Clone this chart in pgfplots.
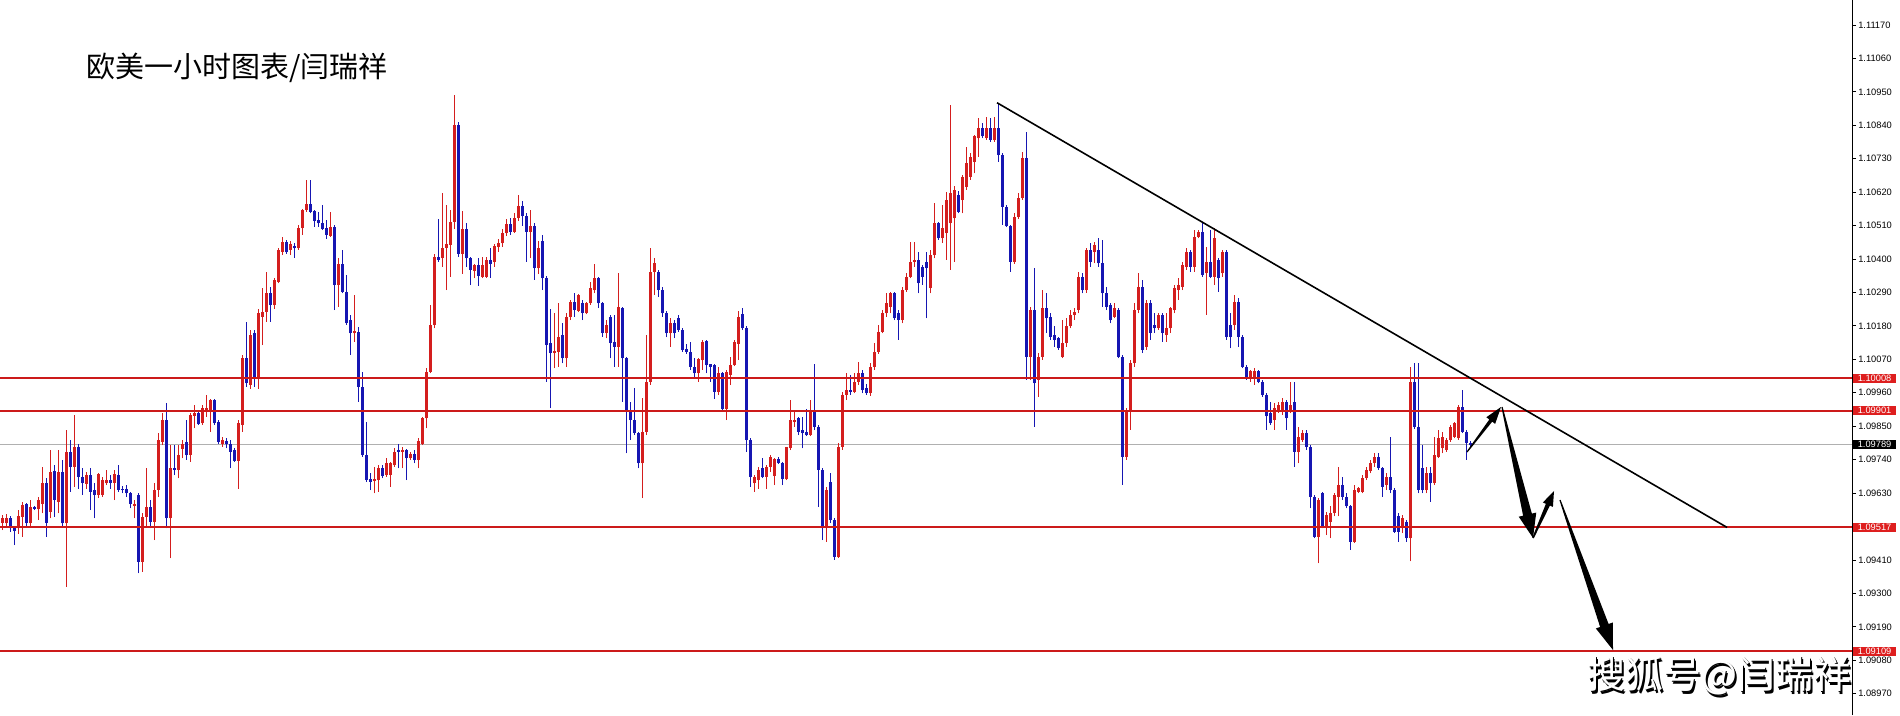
\documentclass[border=0pt]{standalone}
\usepackage{fontspec}
\usepackage{pgfplots}
\usepackage{pgfplotstable}
\pgfplotsset{compat=1.18}
\usetikzlibrary{calc}
\newfontfamily\cjk{Noto Sans CJK SC}
\newfontfamily\ticfamily{Liberation Sans}
\newcommand\ticfont{\ticfamily\fontsize{9.3}{10}\selectfont}
\definecolor{candred}{RGB}{212,30,30}
\definecolor{candblue}{RGB}{22,22,178}
\definecolor{levelred}{RGB}{204,26,26}
\definecolor{tagred}{RGB}{222,30,30}
\definecolor{pricegray}{RGB}{176,176,176}
\newcommand\taparrow[8]{%
  \coordinate (T) at (#1,#2); \coordinate (P) at (#3,#4);
  \fill[black] ($(T)!#5!90:(P)$) -- ($(P)!#8!(T)!#6!-90:(T)$) -- ($(P)!#8!(T)!#7!-90:(T)$) -- (P) -- ($(P)!#8!(T)!#7!90:(T)$) -- ($(P)!#8!(T)!#6!90:(T)$) -- ($(T)!#5!-90:(P)$) -- cycle;}
\pgfplotstableread{
O H L C
1.09532 1.09558 1.09508 1.09547
1.09530 1.09560 1.09520 1.09547
1.09547 1.09555 1.09503 1.09514
1.09514 1.09518 1.09459 1.09505
1.09514 1.09574 1.09497 1.09554
1.09552 1.09602 1.09486 1.09591
1.09593 1.09596 1.09519 1.09530
1.09530 1.09607 1.09519 1.09583
1.09583 1.09587 1.09574 1.09579
1.09576 1.09618 1.09541 1.09607
1.09594 1.09717 1.09563 1.09662
1.09662 1.09678 1.09486 1.09532
1.09569 1.09772 1.09547 1.09700
1.09704 1.09722 1.09552 1.09607
1.09602 1.09772 1.09563 1.09700
1.09700 1.09739 1.09519 1.09530
1.09530 1.09839 1.09322 1.09766
1.09766 1.09804 1.09634 1.09717
1.09717 1.09887 1.09651 1.09782
1.09782 1.09793 1.09645 1.09684
1.09682 1.09711 1.09624 1.09662
1.09660 1.09700 1.09645 1.09689
1.09689 1.09711 1.09574 1.09634
1.09640 1.09662 1.09547 1.09624
1.09624 1.09697 1.09613 1.09693
1.09624 1.09684 1.09618 1.09673
1.09662 1.09706 1.09656 1.09673
1.09673 1.09689 1.09645 1.09664
1.09664 1.09706 1.09607 1.09693
1.09689 1.09722 1.09634 1.09640
1.09645 1.09653 1.09629 1.09640
1.09645 1.09656 1.09618 1.09629
1.09629 1.09634 1.09580 1.09594
1.09587 1.09607 1.09547 1.09594
1.09624 1.09629 1.09366 1.09404
1.09404 1.09563 1.09371 1.09552
1.09552 1.09711 1.09519 1.09585
1.09585 1.09607 1.09514 1.09536
1.09536 1.09662 1.09475 1.09640
1.09640 1.09826 1.09618 1.09804
1.09799 1.09892 1.09788 1.09870
1.09870 1.09925 1.09514 1.09547
1.09547 1.09788 1.09415 1.09711
1.09711 1.09788 1.09689 1.09706
1.09706 1.09788 1.09678 1.09755
1.09775 1.09804 1.09744 1.09793
1.09799 1.09870 1.09739 1.09755
1.09755 1.09892 1.09733 1.09887
1.09884 1.09920 1.09843 1.09892
1.09895 1.09903 1.09854 1.09856
1.09859 1.09920 1.09854 1.09911
1.09900 1.09952 1.09881 1.09909
1.09898 1.09941 1.09832 1.09936
1.09936 1.09941 1.09854 1.09859
1.09865 1.09870 1.09793 1.09799
1.09793 1.09815 1.09782 1.09804
1.09801 1.09810 1.09777 1.09790
1.09793 1.09804 1.09711 1.09766
1.09772 1.09777 1.09733 1.09736
1.09736 1.09870 1.09645 1.09859
1.09854 1.10084 1.09832 1.10075
1.10073 1.10194 1.09980 1.09991
1.09985 1.10166 1.09974 1.10150
1.10155 1.10166 1.09980 1.10007
1.10007 1.10237 1.09974 1.10221
1.10210 1.10303 1.10117 1.10226
1.10226 1.10358 1.10194 1.10287
1.10287 1.10309 1.10194 1.10248
1.10248 1.10336 1.10237 1.10331
1.10325 1.10435 1.10320 1.10430
1.10424 1.10473 1.10413 1.10457
1.10457 1.10462 1.10418 1.10422
1.10430 1.10460 1.10413 1.10450
1.10444 1.10451 1.10404 1.10435
1.10435 1.10512 1.10430 1.10501
1.10501 1.10566 1.10479 1.10561
1.10561 1.10660 1.10555 1.10580
1.10580 1.10660 1.10550 1.10555
1.10558 1.10561 1.10506 1.10525
1.10528 1.10555 1.10506 1.10517
1.10520 1.10577 1.10495 1.10498
1.10503 1.10528 1.10466 1.10479
1.10476 1.10555 1.10473 1.10506
1.10506 1.10512 1.10232 1.10314
1.10314 1.10402 1.10243 1.10385
1.10385 1.10429 1.10287 1.10292
1.10292 1.10347 1.10183 1.10188
1.10199 1.10215 1.10084 1.10155
1.10155 1.10281 1.10128 1.10163
1.10161 1.10177 1.09930 1.09980
1.09980 1.10029 1.09749 1.09755
1.09755 1.09865 1.09667 1.09673
1.09675 1.09695 1.09640 1.09667
1.09670 1.09717 1.09629 1.09675
1.09673 1.09722 1.09634 1.09711
1.09713 1.09722 1.09678 1.09687
1.09689 1.09744 1.09684 1.09728
1.09689 1.09733 1.09651 1.09728
1.09722 1.09777 1.09717 1.09766
1.09772 1.09790 1.09711 1.09766
1.09766 1.09782 1.09711 1.09772
1.09772 1.09775 1.09673 1.09744
1.09744 1.09766 1.09739 1.09760
1.09760 1.09772 1.09728 1.09739
1.09739 1.09810 1.09711 1.09801
1.09793 1.09881 1.09788 1.09876
1.09876 1.10040 1.09843 1.10029
1.10029 1.10248 1.10024 1.10183
1.10183 1.10418 1.10172 1.10407
1.10407 1.10533 1.10391 1.10396
1.10402 1.10616 1.10374 1.10437
1.10437 1.10577 1.10298 1.10451
1.10446 1.10561 1.10342 1.10522
1.10522 1.10941 1.10500 1.10840
1.10840 1.10851 1.10407 1.10418
1.10418 1.10558 1.10352 1.10500
1.10500 1.10517 1.10374 1.10402
1.10402 1.10407 1.10314 1.10363
1.10360 1.10385 1.10336 1.10380
1.10380 1.10402 1.10312 1.10345
1.10342 1.10407 1.10336 1.10380
1.10342 1.10407 1.10338 1.10396
1.10396 1.10435 1.10338 1.10385
1.10391 1.10451 1.10374 1.10443
1.10441 1.10466 1.10424 1.10451
1.10451 1.10500 1.10440 1.10485
1.10485 1.10530 1.10475 1.10515
1.10515 1.10535 1.10480 1.10490
1.10490 1.10550 1.10485 1.10535
1.10535 1.10610 1.10525 1.10575
1.10575 1.10590 1.10510 1.10540
1.10540 1.10550 1.10391 1.10490
1.10490 1.10560 1.10402 1.10510
1.10510 1.10520 1.10331 1.10369
1.10369 1.10460 1.10350 1.10435
1.10460 1.10480 1.10298 1.10336
1.10336 1.10345 1.09997 1.10117
1.10123 1.10236 1.09909 1.10090
1.10090 1.10221 1.10040 1.10097
1.10095 1.10254 1.10046 1.10145
1.10150 1.10188 1.10057 1.10073
1.10073 1.10221 1.10046 1.10210
1.10210 1.10265 1.10199 1.10260
1.10260 1.10287 1.10210 1.10232
1.10229 1.10284 1.10225 1.10282
1.10254 1.10265 1.10199 1.10221
1.10221 1.10260 1.10218 1.10254
1.10254 1.10325 1.10249 1.10304
1.10298 1.10382 1.10287 1.10336
1.10336 1.10342 1.10238 1.10254
1.10254 1.10260 1.10145 1.10156
1.10156 1.10199 1.10139 1.10183
1.10210 1.10216 1.10073 1.10123
1.10128 1.10216 1.10046 1.10112
1.10112 1.10353 1.10046 1.10243
1.10240 1.10243 1.09931 1.10073
1.10073 1.10079 1.09761 1.09903
1.09903 1.09931 1.09805 1.09870
1.09870 1.09975 1.09821 1.09827
1.09827 1.09832 1.09711 1.09728
1.09728 1.09942 1.09613 1.09832
1.09832 1.10150 1.09821 1.09997
1.09997 1.10437 1.09986 1.10358
1.10358 1.10402 1.10282 1.10386
1.10358 1.10364 1.10276 1.10298
1.10298 1.10309 1.10210 1.10221
1.10221 1.10230 1.10142 1.10155
1.10155 1.10205 1.10111 1.10188
1.10188 1.10200 1.10139 1.10155
1.10205 1.10215 1.10160 1.10166
1.10166 1.10172 1.10095 1.10100
1.10103 1.10122 1.10089 1.10095
1.10095 1.10128 1.10035 1.10045
1.10045 1.10073 1.10007 1.10024
1.10024 1.10073 1.09996 1.10070
1.10067 1.10133 1.10035 1.10128
1.10131 1.10133 1.10024 1.10051
1.10053 1.10056 1.09996 1.10045
1.10051 1.10056 1.09941 1.09963
1.09963 1.10045 1.09952 1.10024
1.10024 1.10029 1.09903 1.09908
1.09908 1.10035 1.09870 1.10029
1.10018 1.10078 1.09985 1.10051
1.10051 1.10133 1.10048 1.10128
1.10122 1.10230 1.10067 1.10210
1.10220 1.10240 1.10166 1.10172
1.10172 1.10180 1.09766 1.09804
1.09806 1.09810 1.09651 1.09684
1.09662 1.09689 1.09634 1.09684
1.09673 1.09717 1.09645 1.09706
1.09711 1.09744 1.09678 1.09684
1.09684 1.09722 1.09645 1.09717
1.09717 1.09755 1.09700 1.09749
1.09686 1.09744 1.09656 1.09741
1.09741 1.09749 1.09725 1.09728
1.09728 1.09733 1.09656 1.09675
1.09675 1.09782 1.09673 1.09780
1.09777 1.09936 1.09771 1.09870
1.09865 1.09903 1.09848 1.09872
1.09876 1.09881 1.09821 1.09832
1.09837 1.09881 1.09777 1.09826
1.09832 1.09908 1.09817 1.09821
1.09821 1.09936 1.09817 1.09903
1.09903 1.10056 1.09837 1.09848
1.09848 1.09854 1.09585 1.09706
1.09706 1.09711 1.09475 1.09514
1.09514 1.09650 1.09470 1.09640
1.09668 1.09695 1.09531 1.09542
1.09542 1.09547 1.09410 1.09421
1.09421 1.09794 1.09416 1.09783
1.09783 1.09964 1.09772 1.09953
1.09953 1.10024 1.09936 1.09969
1.09969 1.10019 1.09953 1.09964
1.09964 1.10024 1.09958 1.09997
1.09997 1.10062 1.09986 1.10024
1.10024 1.10035 1.09958 1.09969
1.09975 1.09990 1.09953 1.09958
1.09958 1.10057 1.09950 1.10046
1.10046 1.10123 1.10035 1.10095
1.10095 1.10183 1.10088 1.10161
1.10161 1.10232 1.10155 1.10221
1.10221 1.10287 1.10210 1.10254
1.10243 1.10292 1.10221 1.10287
1.10287 1.10292 1.10199 1.10205
1.10221 1.10232 1.10134 1.10199
1.10199 1.10309 1.10188 1.10298
1.10298 1.10353 1.10292 1.10342
1.10342 1.10457 1.10336 1.10391
1.10391 1.10457 1.10375 1.10397
1.10397 1.10424 1.10287 1.10320
1.10375 1.10379 1.10315 1.10342
1.10391 1.10424 1.10205 1.10369
1.10304 1.10429 1.10287 1.10413
1.10413 1.10583 1.10402 1.10517
1.10517 1.10523 1.10463 1.10468
1.10468 1.10578 1.10452 1.10501
1.10485 1.10622 1.10397 1.10594
1.10517 1.10907 1.10364 1.10616
1.10534 1.10640 1.10391 1.10627
1.10611 1.10625 1.10550 1.10556
1.10594 1.10676 1.10550 1.10671
1.10638 1.10770 1.10627 1.10715
1.10671 1.10748 1.10660 1.10737
1.10720 1.10808 1.10682 1.10803
1.10797 1.10863 1.10737 1.10830
1.10830 1.10846 1.10797 1.10803
1.10797 1.10868 1.10792 1.10830
1.10830 1.10863 1.10786 1.10792
1.10792 1.10868 1.10786 1.10830
1.10830 1.10912 1.10720 1.10742
1.10742 1.10748 1.10512 1.10572
1.10572 1.10578 1.10505 1.10507
1.10507 1.10512 1.10358 1.10391
1.10391 1.10550 1.10385 1.10539
1.10539 1.10616 1.10533 1.10600
1.10600 1.10753 1.10595 1.10731
1.10731 1.10819 1.10002 1.10079
1.10079 1.10243 1.10002 1.10232
1.10232 1.10369 1.09849 1.09991
1.10002 1.10090 1.09947 1.10079
1.10079 1.10298 1.10068 1.10238
1.10238 1.10287 1.10156 1.10205
1.10210 1.10221 1.10134 1.10145
1.10150 1.10178 1.10112 1.10134
1.10139 1.10145 1.10101 1.10106
1.10079 1.10199 1.10073 1.10123
1.10123 1.10205 1.10112 1.10178
1.10178 1.10232 1.10172 1.10216
1.10216 1.10238 1.10199 1.10227
1.10232 1.10358 1.10221 1.10342
1.10342 1.10353 1.10287 1.10298
1.10298 1.10435 1.10289 1.10430
1.10430 1.10452 1.10375 1.10391
1.10424 1.10457 1.10386 1.10446
1.10430 1.10468 1.10375 1.10386
1.10386 1.10463 1.10243 1.10287
1.10287 1.10309 1.10232 1.10243
1.10249 1.10254 1.10188 1.10199
1.10210 1.10254 1.10205 1.10238
1.10232 1.10238 1.10073 1.10079
1.10079 1.10084 1.09657 1.09750
1.09750 1.09910 1.09739 1.09904
1.09904 1.10068 1.09838 1.10057
1.10057 1.10254 1.10046 1.10232
1.10232 1.10353 1.10221 1.10309
1.10309 1.10331 1.10090 1.10101
1.10112 1.10265 1.10101 1.10254
1.10254 1.10265 1.10134 1.10156
1.10183 1.10221 1.10156 1.10172
1.10172 1.10221 1.10167 1.10216
1.10216 1.10221 1.10128 1.10156
1.10150 1.10221 1.10128 1.10172
1.10172 1.10243 1.10156 1.10238
1.10232 1.10315 1.10221 1.10304
1.10298 1.10336 1.10265 1.10315
1.10309 1.10391 1.10298 1.10380
1.10375 1.10435 1.10364 1.10424
1.10424 1.10430 1.10358 1.10375
1.10375 1.10496 1.10358 1.10474
1.10474 1.10496 1.10468 1.10490
1.10490 1.10523 1.10342 1.10347
1.10353 1.10441 1.10216 1.10391
1.10391 1.10496 1.10336 1.10342
1.10342 1.10501 1.10315 1.10468
1.10397 1.10402 1.10293 1.10336
1.10353 1.10430 1.10342 1.10424
1.10424 1.10430 1.10134 1.10145
1.10183 1.10221 1.10106 1.10145
1.10183 1.10282 1.10167 1.10260
1.10260 1.10271 1.10112 1.10145
1.10145 1.10150 1.10040 1.10046
1.10046 1.10051 1.10002 1.10013
1.10008 1.10035 1.09997 1.10030
1.10013 1.10040 1.09986 1.10030
1.10030 1.10035 1.09991 1.09997
1.09997 1.10002 1.09947 1.09953
1.09953 1.09958 1.09838 1.09882
1.09893 1.09931 1.09854 1.09860
1.09871 1.09925 1.09838 1.09909
1.09898 1.09931 1.09893 1.09920
1.09898 1.09942 1.09887 1.09931
1.09931 1.09936 1.09838 1.09876
1.09898 1.09997 1.09893 1.09920
1.09931 1.09997 1.09717 1.09766
1.09766 1.09849 1.09728 1.09816
1.09805 1.09838 1.09799 1.09827
1.09827 1.09838 1.09772 1.09783
1.09783 1.09788 1.09580 1.09618
1.09618 1.09624 1.09481 1.09487
1.09487 1.09613 1.09399 1.09608
1.09629 1.09635 1.09514 1.09520
1.09520 1.09569 1.09492 1.09558
1.09536 1.09586 1.09481 1.09564
1.09564 1.09629 1.09553 1.09624
1.09618 1.09717 1.09553 1.09657
1.09657 1.09684 1.09608 1.09618
1.09618 1.09629 1.09580 1.09586
1.09586 1.09591 1.09443 1.09470
1.09470 1.09657 1.09465 1.09640
1.09635 1.09651 1.09629 1.09646
1.09635 1.09689 1.09629 1.09679
1.09679 1.09717 1.09673 1.09706
1.09701 1.09739 1.09695 1.09728
1.09728 1.09761 1.09717 1.09750
1.09750 1.09761 1.09706 1.09712
1.09712 1.09717 1.09618 1.09651
1.09657 1.09695 1.09640 1.09684
1.09684 1.09816 1.09629 1.09640
1.09640 1.09646 1.09498 1.09503
1.09553 1.09564 1.09470 1.09503
1.09514 1.09558 1.09498 1.09547
1.09536 1.09542 1.09470 1.09481
1.09481 1.10046 1.09405 1.09997
1.09997 1.10057 1.09840 1.09849
1.09849 1.10057 1.09629 1.09640
1.09712 1.09788 1.09629 1.09640
1.09640 1.09717 1.09629 1.09695
1.09695 1.09717 1.09602 1.09662
1.09662 1.09816 1.09656 1.09755
1.09750 1.09838 1.09745 1.09810
1.09777 1.09832 1.09761 1.09816
1.09772 1.09810 1.09766 1.09805
1.09805 1.09854 1.09799 1.09849
1.09816 1.09865 1.09810 1.09860
1.09810 1.09920 1.09805 1.09914
1.09914 1.09969 1.09827 1.09832
1.09832 1.09838 1.09739 1.09794
1.09794 1.09800 1.09780 1.09789
}\candles
\begin{document}
\begin{tikzpicture}[x=1pt,y=1pt]
\useasboundingbox (0,0) rectangle (1900,715);
\begin{axis}[
  at={(0pt,0pt)}, anchor=south west,
  scale only axis, width=1852pt, height=715pt,
  xmin=-0.5, xmax=462.5, ymin=1.08900, ymax=1.11252,
  axis x line=none,
  axis y line=right,
  axis line style={-, black, line width=1pt},
  ytick={1.1117,1.1106,1.1095,1.1084,1.1073,1.1062,1.1051,1.1040,1.1029,1.1018,1.1007,1.0996,1.0985,1.0974,1.0963,1.0941,1.0930,1.0919,1.0908,1.0897},
  tick align=outside,
  major tick length=4pt,
  tick style={black, line width=0.8pt},
  scaled y ticks=false,
  yticklabel style={font=\ticfont, text=black, anchor=west, inner sep=0pt, xshift=2pt,
    /pgf/number format/.cd, fixed, fixed zerofill, precision=5, assume math mode=true},
  clip=false,
  candle/.style={mark=none, -, forget plot},
]
% current price line
\addplot[pricegray, line width=0.8pt, forget plot] coordinates {(-0.5,1.09789) (462.5,1.09789)};
% wicks
\addplot[candle, candred, line width=1pt,
  restrict expr to domain={\thisrow{C}-\thisrow{O}}{0:1},
  quiver={u=0, v=\thisrow{H}-\thisrow{L}}]
  table[x expr=\coordindex, y=L] {\candles};
\addplot[candle, candblue, line width=1pt,
  restrict expr to domain={\thisrow{C}-\thisrow{O}}{-1:0},
  quiver={u=0, v=\thisrow{H}-\thisrow{L}}]
  table[x expr=\coordindex, y=L] {\candles};
% bodies
\addplot[candle, candred, line width=3pt,
  restrict expr to domain={\thisrow{C}-\thisrow{O}}{0:1},
  quiver={u=0, v=\thisrow{C}-\thisrow{O}}]
  table[x expr=\coordindex, y=O] {\candles};
\addplot[candle, candblue, line width=3pt,
  restrict expr to domain={\thisrow{C}-\thisrow{O}}{-1:0},
  quiver={u=0, v=\thisrow{O}-\thisrow{C}}]
  table[x expr=\coordindex, y=C] {\candles};
% levels
\addplot[levelred, line width=2pt, forget plot] coordinates {(-0.5,1.10008) (462.5,1.10008)};
\addplot[levelred, line width=2pt, forget plot] coordinates {(-0.5,1.09901) (462.5,1.09901)};
\addplot[levelred, line width=2pt, forget plot] coordinates {(-0.5,1.09517) (462.5,1.09517)};
\addplot[levelred, line width=2pt, forget plot] coordinates {(-0.5,1.09109) (462.5,1.09109)};
% trend line
\addplot[black, line width=1.6pt, forget plot] coordinates {(248.75,1.10914) (431.25,1.09517)};
% price tags
\tikzset{tag/.style={fill=#1, text=white, font=\ticfont, anchor=west, inner xsep=4.5pt, inner ysep=1.3pt, xshift=1pt}}
\node[tag=tagred] at (axis cs:462.5,1.10008) {1.10008};
\node[tag=tagred] at (axis cs:462.5,1.09901) {1.09901};
\node[tag=black] at (axis cs:462.5,1.09789) {1.09789};
\node[tag=tagred] at (axis cs:462.5,1.09517) {1.09517};
\node[tag=tagred] at (axis cs:462.5,1.09109) {1.09109};
\end{axis}
\begin{scope}[shift={(0,715)}, x=1pt, y=-1pt]
  \node[anchor=base west, inner sep=0pt, font=\cjk\fontsize{29}{29}\selectfont] at (86,78) {欧美一小时图表/闫瑞祥};
  \taparrow{1467}{452}{1501}{407}{0.6pt}{1.8pt}{5.5pt}{17pt}
  \taparrow{1502}{407}{1533}{538}{0.6pt}{4.5pt}{9pt}{24pt}
  \taparrow{1533}{538}{1554}{491}{0.8pt}{2.2pt}{5.5pt}{15pt}
  \taparrow{1560}{500}{1613}{650}{0.6pt}{4.5pt}{9pt}{26pt}
  \node[anchor=base east, inner sep=0pt, font=\cjk\fontsize{38}{38}\selectfont, text=black] at (1854,691) {搜狐号@闫瑞祥};
  \node[anchor=base east, inner sep=0pt, font=\cjk\fontsize{38}{38}\selectfont, text=black] at (1852.5,689.5) {搜狐号@闫瑞祥};
  \node[anchor=base east, inner sep=0pt, font=\cjk\fontsize{38}{38}\selectfont, text=white] at (1851.5,688.5) {搜狐号@闫瑞祥};
\end{scope}
\end{tikzpicture}
\end{document}
